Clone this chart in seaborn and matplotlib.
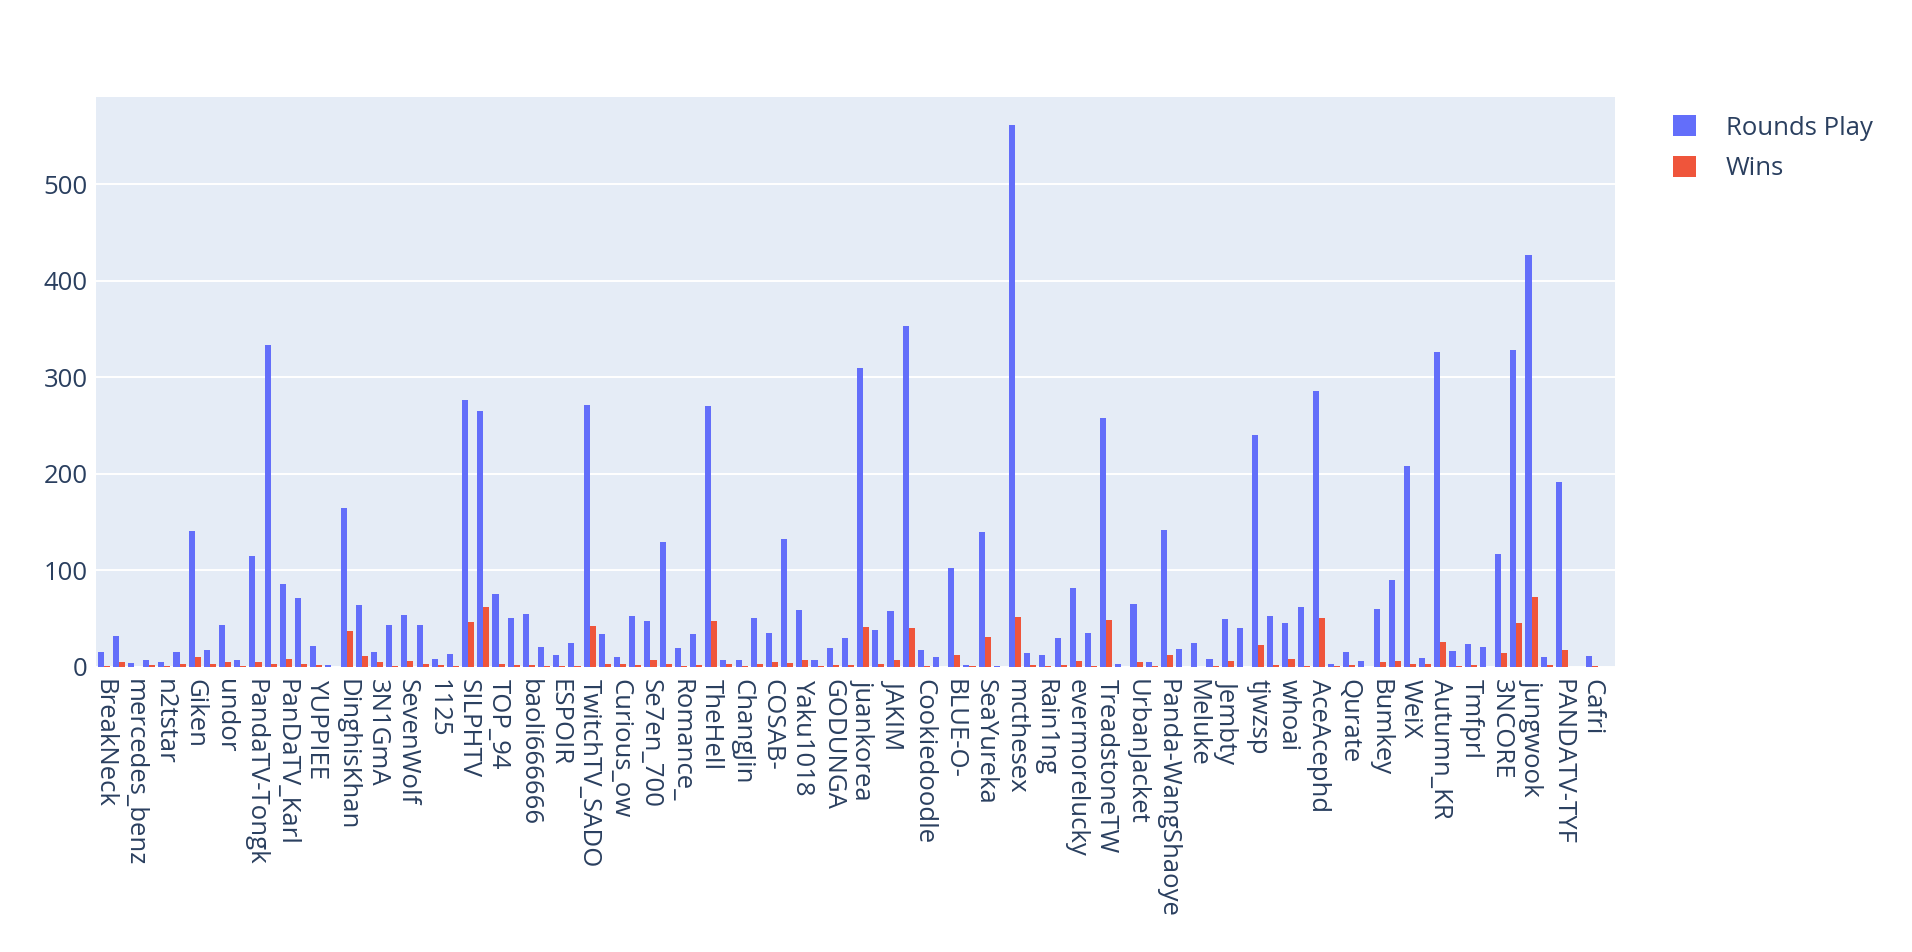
import matplotlib
matplotlib.use("Agg")
import matplotlib.pyplot as plt
import pandas as pd
import seaborn as sns

# Labels visible on the x axis (every other player is shown)
shown_labels = [
    "BreakNeck", "mercedes_benz", "n2tstar", "Giken", "undor", "PandaTV-Tongk",
    "PanDaTV_Karl", "YUPPIEE", "DinghisKhan", "3N1GmA", "SevenWolf", "1125",
    "SILPHTV", "TOP_94", "baoli666666", "ESPOIR", "TwitchTV_SADO", "Curious_ow",
    "Se7en_700", "Romance_", "TheHell", "ChangJin", "COSAB-", "Yaku1018",
    "GODUNGA", "juankorea", "JAKIM", "Cookiedoodle", "BLUE-O-", "SeaYureka",
    "mcthesex", "Rain1ng", "evermorelucky", "TreadstoneTW", "UrbanJacket",
    "Panda-WangShaoye", "Meluke", "Jembty", "tjwzsp", "whoai", "AceAcephd",
    "Qurate", "Bumkey", "WeiX", "Autumn_KR", "Tmfprl", "3NCORE", "jungwook",
    "PANDATV-TYF", "Cafri",
]

# Players whose label is hidden by the axis get a placeholder name
players = []
for i, name in enumerate(shown_labels):
    players.append(name)
    players.append(f"player_{2 * i + 1}")

rounds_play = [
    16, 32, 4, 7, 5, 15, 141, 18, 43, 7,
    115, 334, 86, 71, 22, 2, 165, 64, 15, 44,
    54, 44, 8, 13, 277, 265, 76, 51, 55, 21,
    12, 25, 271, 34, 10, 53, 48, 129, 20, 34,
    270, 7, 7, 51, 35, 133, 59, 7, 20, 30,
    310, 38, 58, 353, 18, 10, 103, 2, 140, 1,
    561, 14, 12, 30, 82, 35, 258, 3, 65, 5,
    142, 19, 25, 8, 50, 40, 240, 53, 46, 62,
    286, 3, 15, 6, 60, 90, 208, 9, 326, 17,
    24, 21, 117, 328, 427, 10, 192, 0, 11, 0,
]

wins = [
    1, 5, 0, 2, 1, 3, 10, 3, 5, 1,
    5, 3, 8, 3, 2, 0, 37, 11, 5, 1,
    6, 3, 2, 1, 47, 62, 3, 2, 2, 1,
    1, 1, 42, 3, 3, 2, 7, 3, 1, 2,
    48, 3, 1, 3, 5, 4, 7, 1, 2, 2,
    41, 3, 7, 40, 1, 0, 12, 1, 31, 0,
    52, 2, 1, 2, 6, 1, 49, 0, 5, 1,
    12, 0, 0, 1, 6, 0, 23, 2, 8, 1,
    51, 1, 2, 0, 5, 6, 3, 3, 26, 1,
    2, 0, 14, 46, 73, 2, 18, 0, 1, 0,
]

df = pd.DataFrame({"player": players, "Rounds Play": rounds_play, "Wins": wins})
long_df = df.melt(id_vars="player", var_name="stat", value_name="value")

sns.set_style("white")
plt.rcParams["font.family"] = ["Open Sans", "DejaVu Sans"]
text_color = "#2a3f5f"
font_size = 18.5

fig = plt.figure(figsize=(19.12, 9.52), dpi=100)
ax = fig.add_axes([0.0502, 0.2994, 0.7945, 0.5982])
ax.set_facecolor("#E5ECF6")

sns.barplot(
    data=long_df, x="player", y="value", hue="stat", order=players,
    hue_order=["Rounds Play", "Wins"], palette=["#636efa", "#EF553B"],
    width=0.8, linewidth=0, saturation=1, errorbar=None, ax=ax,
)

ax.set_xlim(-0.5, len(players) - 0.5)
ax.set_ylim(0, 590)
ax.set_yticks([0, 100, 200, 300, 400, 500])
ax.yaxis.grid(True, color="white", linewidth=1.4)
ax.set_axisbelow(True)
ax.axhline(0, color="white", linewidth=2, zorder=0.5)
for s in ax.spines.values():
    s.set_visible(False)

ax.set_xticks(range(0, len(players), 2))
ax.set_xticklabels(shown_labels, rotation=270, ha="center", va="top")
ax.tick_params(axis="x", length=0, pad=9, labelsize=font_size, colors=text_color)
ax.tick_params(axis="y", length=0, pad=6, labelsize=font_size, colors=text_color)
ax.set_xlabel("")
ax.set_ylabel("")

handles, labels = ax.get_legend_handles_labels()
ax.legend_.remove()
fig.legend(
    handles, labels, loc="upper left",
    bbox_to_anchor=(1673 / 1912, 1 - 115 / 952), bbox_transform=fig.transFigure,
    frameon=False, fontsize=font_size, labelcolor=text_color,
    borderpad=0, borderaxespad=0,
    handlelength=0.9, handleheight=0.9, handletextpad=1.15, labelspacing=0.6,
)

fig.savefig("out.png", dpi=100)
